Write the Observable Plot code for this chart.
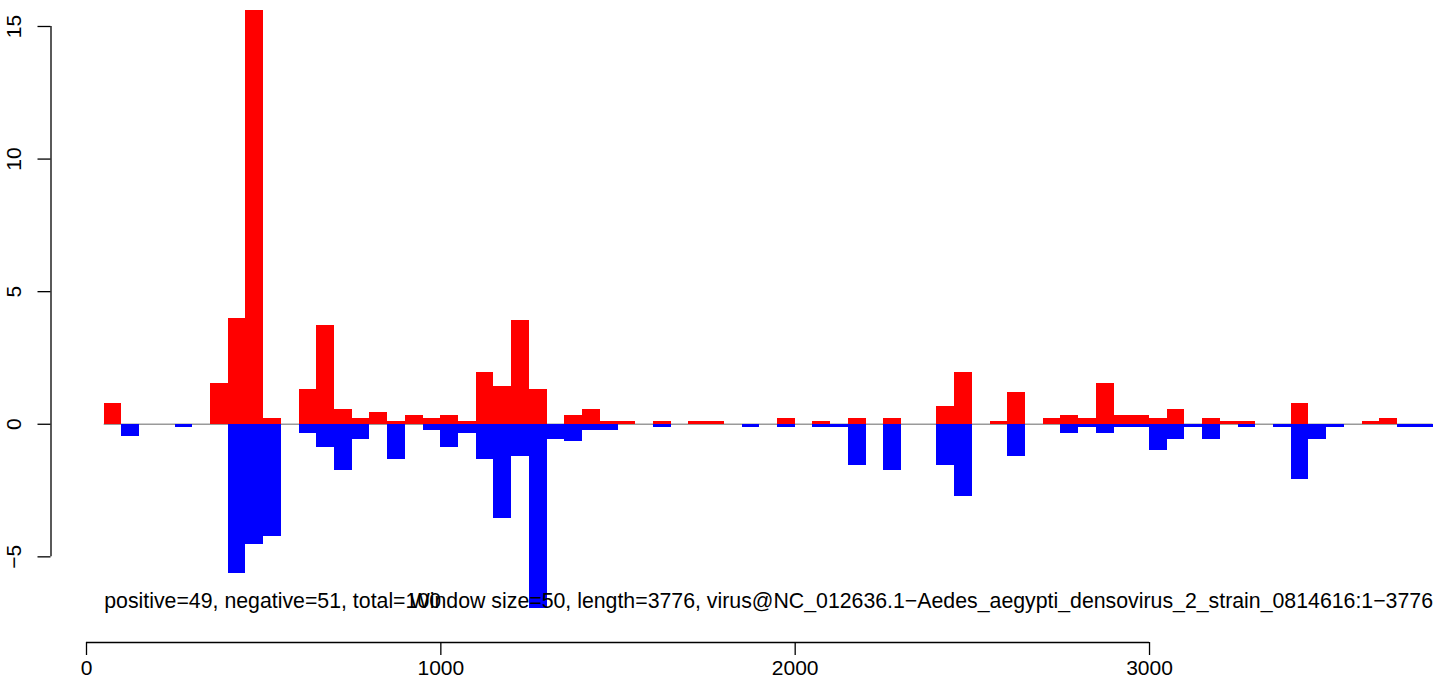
<!DOCTYPE html>
<html><head><meta charset="utf-8">
<script src="https://cdn.jsdelivr.net/npm/d3@7"></script>
<script src="https://cdn.jsdelivr.net/npm/@observablehq/plot@0.6"></script>
<style>html,body{margin:0;padding:0;background:#fff} #chart svg{display:block}</style>
</head><body><div id="chart"></div>
<script>
// ---- data ----
const windowSize = 50;
const positive = [
  0, 0.77, 0, 0, 0, 0, 0, 1.52, 4.0, 15.59,
  0.21, 0, 1.3, 3.71, 0.55, 0.21, 0.44, 0.1, 0.33, 0.21,
  0.33, 0.1, 1.94, 1.41, 3.9, 1.3, 0, 0.33, 0.55, 0.1,
  0.1, 0, 0.1, 0, 0.1, 0.1, 0, 0, 0, 0.21,
  0, 0.1, 0, 0.21, 0, 0.21, 0, 0, 0.67, 1.94,
  0, 0.1, 1.2, 0, 0.21, 0.33, 0.21, 1.53, 0.33, 0.33,
  0.21, 0.55, 0, 0.21, 0.1, 0.1, 0, 0, 0.77, 0,
  0, 0, 0.1, 0.21, 0, 0
];
const negative = [
  0, 0, -0.47, 0, 0, -0.12, 0, 0, -5.64, -4.54,
  -4.24, 0, -0.35, -0.87, -1.74, -0.57, 0, -1.32, 0, -0.23,
  -0.86, -0.34, -1.33, -3.56, -1.21, -6.94, -0.57, -0.64, -0.23, -0.23,
  0, 0, -0.12, 0, 0, 0, 0, -0.12, 0, -0.12,
  0, -0.12, -0.12, -1.55, 0, -1.74, 0, 0, -1.55, -2.72,
  0, 0, -1.21, 0, 0, -0.35, -0.12, -0.35, -0.12, -0.12,
  -1.0, -0.58, -0.12, -0.58, 0, -0.12, 0, -0.12, -2.08, -0.58,
  -0.12, 0, 0, 0, -0.12, -0.12
];
const xTicks = [0, 1000, 2000, 3000];
const yTicks = [-5, 0, 5, 10, 15];
const statsLabel = "positive=49, negative=51, total=100";
const infoLabel = "Window size=50, length=3776, virus@NC_012636.1\u2212Aedes_aegypti_densovirus_2_strain_0814616:1\u22123776";

// ---- build table ----
const bins = positive.map((p, i) => ({x1: i * windowSize, x2: (i + 1) * windowSize, pos: p, neg: negative[i]}));
const xEnd = bins.length * windowSize;

const yBottom = -8.23, yTop = 15.98;
const font = "'Liberation Sans', Arial, Helvetica, sans-serif";
const fmt = d3.format("d");

const plot = Plot.plot({
  width: 1444, height: 680,
  marginTop: 0, marginLeft: 86, marginRight: 11.5, marginBottom: 38,
  x: {domain: [0, xEnd], axis: null},
  y: {domain: [yBottom, yTop], axis: null},
  style: {fontFamily: font, fontSize: "21px", background: "white", color: "black"},
  marks: [
    Plot.ruleY([0], {x1: windowSize, x2: xEnd, stroke: "#9a9a9a", strokeWidth: 1.5}),
    Plot.rect(bins.filter(d => d.pos > 0), {x1: "x1", x2: "x2", y1: 0, y2: "pos", fill: "#ff0000", shapeRendering: "crispEdges"}),
    Plot.rect(bins.filter(d => d.neg < 0), {x1: "x1", x2: "x2", y1: 0, y2: "neg", fill: "#0000ff", shapeRendering: "crispEdges"}),
    // x axis (R style)
    Plot.ruleY([yBottom], {x1: xTicks[0], x2: xTicks[xTicks.length - 1], stroke: "black", strokeWidth: 1.3}),
    Plot.axisX({ticks: xTicks, anchor: "bottom", tickSize: 13, tickPadding: 5, tickFormat: fmt, label: null, fontSize: 21, strokeWidth: 1.3}),
    // y axis (R style, detached to the left)
    Plot.ruleX([0], {y1: yTicks[0], y2: yTicks[yTicks.length - 1], dx: -35.5, stroke: "black", strokeWidth: 1.3}),
    Plot.axisY({ticks: yTicks, anchor: "left", tickSize: 13, dx: -35.5, tickFormat: () => "", label: null, strokeWidth: 1.3}),
    Plot.text(yTicks, {x: 0, y: d => d, text: d => fmt(d), rotate: -90, dx: -72.2, textAnchor: "middle", lineAnchor: "middle", fontSize: 21, fill: "black"}),
    // annotations
    Plot.text([statsLabel], {x: windowSize, y: -6.69, text: d => d, textAnchor: "start", lineAnchor: "middle", fontSize: 21.3, fill: "black"}),
    Plot.text([infoLabel], {x: xEnd, y: -6.69, text: d => d, textAnchor: "end", lineAnchor: "middle", fontSize: 21.3, fill: "black"})
  ]
});
document.getElementById("chart").appendChild(plot);
</script>
</body></html>
